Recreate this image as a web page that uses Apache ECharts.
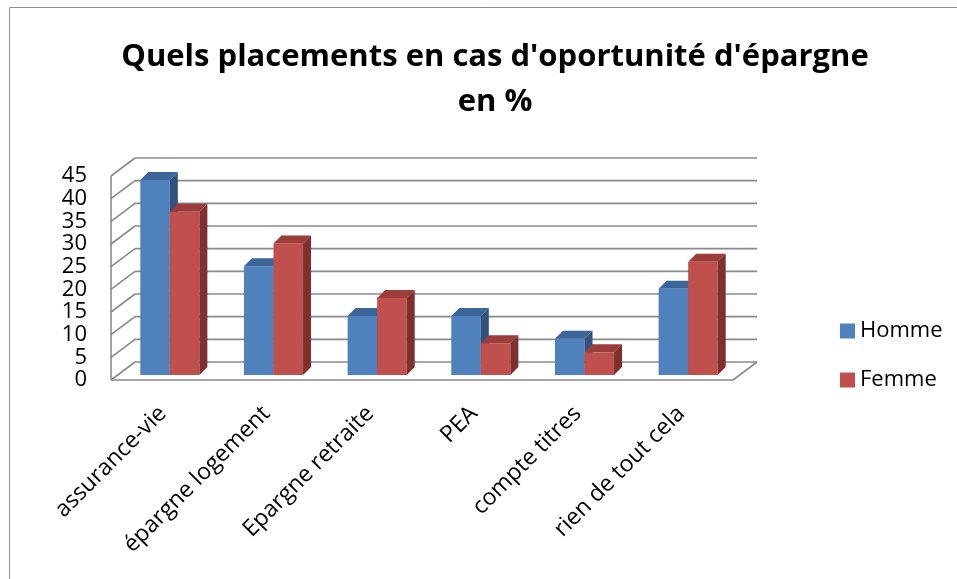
<!DOCTYPE html>
<html>
<head>
<meta charset="utf-8">
<script src="https://cdn.jsdelivr.net/npm/echarts@6/dist/echarts.min.js"></script>
<style>
  html, body { margin: 0; padding: 0; background: #fff; }
  #chart { width: 957px; height: 579px; }
</style>
</head>
<body>
<div id="chart"></div>
<script>
const categories = ['assurance-vie', 'épargne logement', 'Epargne retraite', 'PEA', 'compte titres', 'rien de tout cela']
const homme = [43, 24, 13, 13, 8, 19]
const femme = [36, 29, 17, 7, 5, 25]
const yTicks = [0, 5, 10, 15, 20, 25, 30, 35, 40, 45]
const seriesNames = ['Homme', 'Femme']

// faces: front, top, side
const palette = [
  ['#4f81bd', '#3c6699', '#30527f'],
  ['#c0504d', '#9a3d3b', '#7d302e']
]

const font = '"Open Sans", sans-serif'

// depth offsets from the front plane of the axis box
const barShift = [7, -5]
const barDepth = [8, -8]
const wallDepth = [24, -18]

function wallItem (params, api) {
  const cs = params.coordSys
  const left = cs.x
  const right = cs.x + cs.width
  const lineStyle = { stroke: '#8a8a8a', lineWidth: 1.6 }
  const children = []
  yTicks.forEach(function (v) {
    const y = api.coord([0, v])[1]
    children.push({ type: 'line', shape: { x1: left + wallDepth[0], y1: y + wallDepth[1], x2: right + wallDepth[0], y2: y + wallDepth[1] }, style: lineStyle })
    children.push({ type: 'line', shape: { x1: left, y1: y, x2: left + wallDepth[0], y2: y + wallDepth[1] }, style: lineStyle })
  })
  const y0 = api.coord([0, 0])[1]
  const yTop = api.coord([0, yTicks[yTicks.length - 1]])[1]
  children.push({ type: 'line', shape: { x1: left, y1: y0, x2: left, y2: yTop }, style: lineStyle })
  children.push({ type: 'line', shape: { x1: left, y1: y0, x2: right, y2: y0 }, style: lineStyle })
  children.push({ type: 'line', shape: { x1: right, y1: y0, x2: right + wallDepth[0], y2: y0 + wallDepth[1] }, style: lineStyle })
  return { type: 'group', children: children }
}

function barRenderer (s) {
  return function (params, api) {
    const i = api.value(0)
    const base = api.coord([i, 0])
    const top = api.coord([i, api.value(1)])
    const band = api.size([1, 0])[0]
    const w = band * 0.285
    const x = base[0] + barShift[0] - (s === 0 ? w : 0)
    const y0 = base[1] + barShift[1]
    const y1 = top[1] + barShift[1]
    const dx = barDepth[0]
    const dy = barDepth[1]
    const c = palette[s]
    return {
      type: 'group',
      children: [
        { type: 'rect', shape: { x: x, y: y1, width: w, height: y0 - y1 }, style: { fill: c[0] } },
        { type: 'polygon', shape: { points: [[x, y1], [x + w, y1], [x + w + dx, y1 + dy], [x + dx, y1 + dy]] }, style: { fill: c[1] } },
        { type: 'polygon', shape: { points: [[x + w, y1], [x + w + dx, y1 + dy], [x + w + dx, y0 + dy], [x + w, y0]] }, style: { fill: c[2] } }
      ]
    }
  }
}

const chart = echarts.init(document.getElementById('chart'))
chart.setOption({
  animation: false,
  backgroundColor: '#fff',
  graphic: [{
    type: 'rect',
    shape: { x: 9.5, y: 7.5, width: 2000, height: 2000 },
    style: { fill: 'none', stroke: '#8c8c8c', lineWidth: 1 },
    silent: true
  }],
  title: {
    text: "Quels placements en cas d'oportunité d'épargne\nen %",
    left: 490,
    top: 30,
    textAlign: 'center',
    textStyle: { fontFamily: font, fontWeight: 'bold', fontSize: 31, lineHeight: 45, color: '#000' }
  },
  legend: {
    orient: 'vertical',
    left: 835,
    top: 315,
    itemWidth: 15,
    itemHeight: 15,
    itemGap: 27,
    icon: 'rect',
    data: seriesNames,
    textStyle: { fontFamily: font, fontSize: 22, lineHeight: 22, color: '#000' }
  },
  grid: { left: 111, right: 224, top: 176, bottom: 199 },
  xAxis: {
    type: 'category',
    data: categories,
    axisLine: { show: false },
    axisTick: { show: false },
    axisLabel: { interval: 0, rotate: 45, margin: 30, fontFamily: font, fontSize: 23, color: '#000' }
  },
  yAxis: {
    type: 'value',
    min: 0,
    max: 45,
    interval: 5,
    axisLine: { show: false },
    axisTick: { show: false },
    splitLine: { show: false },
    axisLabel: { margin: 24, fontFamily: font, fontSize: 22, color: '#000' }
  },
  series: [
    {
      type: 'custom',
      name: 'walls',
      data: [[0, 0]],
      renderItem: wallItem,
      silent: true,
      z: 1
    },
    {
      type: 'custom',
      name: seriesNames[0],
      data: homme.map(function (v, i) { return [i, v] }),
      itemStyle: { color: palette[0][0] },
      renderItem: barRenderer(0),
      z: 2
    },
    {
      type: 'custom',
      name: seriesNames[1],
      data: femme.map(function (v, i) { return [i, v] }),
      itemStyle: { color: palette[1][0] },
      renderItem: barRenderer(1),
      z: 3
    }
  ]
})
</script>
</body>
</html>
